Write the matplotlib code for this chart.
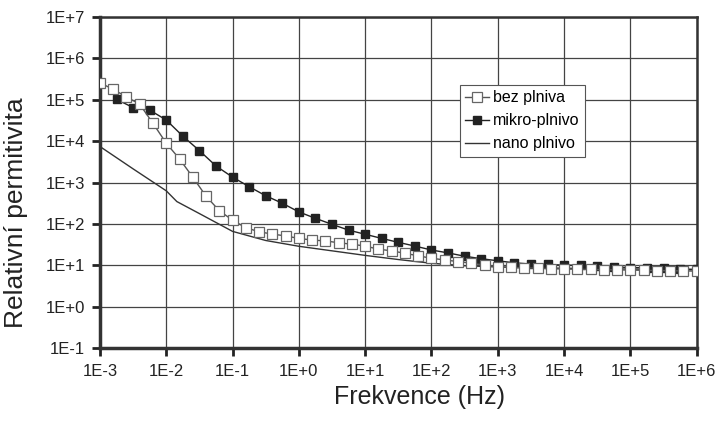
import numpy as np
import matplotlib.pyplot as plt
from matplotlib.ticker import FixedLocator, NullLocator

plt.rcParams['font.family'] = ['Liberation Sans', 'DejaVu Sans']

# --- data (log10 values) ---
bez_logf = [-3.0, -2.8, -2.6, -2.4, -2.2, -2.0, -1.8, -1.6, -1.4, -1.2,
            -1.0, -0.8, -0.6, -0.4, -0.2, 0.0, 0.2, 0.4, 0.6, 0.8,
            1.0, 1.2, 1.4, 1.6, 1.8, 2.0, 2.2, 2.4, 2.6, 2.8,
            3.0, 3.2, 3.4, 3.6, 3.8, 4.0, 4.2, 4.4, 4.6, 4.8,
            5.0, 5.2, 5.4, 5.6, 5.8, 6.0]
bez_loge = [5.41, 5.25, 5.07, 4.89, 4.43, 3.95, 3.57, 3.13, 2.67, 2.32,
            2.09, 1.91, 1.81, 1.755, 1.71, 1.65, 1.61, 1.59, 1.545, 1.51,
            1.465, 1.39, 1.35, 1.29, 1.23, 1.17, 1.13, 1.09, 1.05, 1.006,
            0.965, 0.95, 0.94, 0.93, 0.92, 0.91, 0.905, 0.90, 0.895, 0.89,
            0.885, 0.88, 0.875, 0.87, 0.865, 0.86]

mikro_logf = [-2.75, -2.5, -2.25, -2.0, -1.75, -1.5, -1.25, -1.0, -0.75, -0.5,
              -0.25, 0.0, 0.25, 0.5, 0.75, 1.0, 1.25, 1.5, 1.75, 2.0,
              2.25, 2.5, 2.75, 3.0, 3.25, 3.5, 3.75, 4.0, 4.25, 4.5,
              4.75, 5.0, 5.25, 5.5, 5.75, 6.0]
mikro_loge = [5.01, 4.81, 4.75, 4.51, 4.12, 3.77, 3.40, 3.13, 2.90, 2.68,
              2.50, 2.29, 2.135, 1.99, 1.85, 1.75, 1.65, 1.555, 1.465, 1.37,
              1.30, 1.22, 1.16, 1.11, 1.06, 1.03, 1.02, 1.006, 1.0, 0.975,
              0.965, 0.945, 0.94, 0.925, 0.915, 0.90]

nano_logf = [-3.0, -2.5, -2.0, -1.84, -1.5, -1.0, -0.5, 0.0, 0.5, 1.0,
             1.5, 2.0, 2.5, 3.0, 3.5, 4.0, 4.5, 5.0, 5.5, 6.0]
nano_loge = [3.87, 3.33, 2.80, 2.54, 2.25, 1.82, 1.60, 1.46, 1.35, 1.24,
             1.14, 1.05, 0.99, 0.96, 0.94, 0.93, 0.92, 0.91, 0.90, 0.89]

x_ticks = [1e-3, 1e-2, 1e-1, 1e0, 1e1, 1e2, 1e3, 1e4, 1e5, 1e6]
x_labels = ['1E-3', '1E-2', '1E-1', '1E+0', '1E+1', '1E+2', '1E+3', '1E+4', '1E+5', '1E+6']
y_ticks = [1e-1, 1e0, 1e1, 1e2, 1e3, 1e4, 1e5, 1e6, 1e7]
y_labels = ['1E-1', '1E+0', '1E+1', '1E+2', '1E+3', '1E+4', '1E+5', '1E+6', '1E+7']

fig = plt.figure(figsize=(7.19, 4.23), dpi=100)
ax = fig.add_axes([0.139, 0.177, 0.830, 0.783])

ax.plot(10 ** np.array(bez_logf), 10 ** np.array(bez_loge), color='#555555', lw=1.0,
        marker='s', ms=6.5, mfc='white', mec='#666666', mew=0.9, label='bez plniva', zorder=4)
ax.plot(10 ** np.array(mikro_logf), 10 ** np.array(mikro_loge), color='#222222', lw=1.0,
        marker='s', ms=6, mfc='#222222', mec='#222222', label='mikro-plnivo', zorder=3)
ax.plot(10 ** np.array(nano_logf), 10 ** np.array(nano_loge), color='#333333', lw=1.0,
        label='nano plnivo', zorder=2)

ax.set_xscale('log')
ax.set_yscale('log')
ax.set_xlim(1e-3, 1e6)
ax.set_ylim(1e-1, 1e7)
ax.xaxis.set_major_locator(FixedLocator(x_ticks))
ax.yaxis.set_major_locator(FixedLocator(y_ticks))
ax.xaxis.set_minor_locator(NullLocator())
ax.yaxis.set_minor_locator(NullLocator())
ax.set_xticklabels(x_labels)
ax.set_yticklabels(y_labels)
ax.tick_params(axis='both', direction='out', length=5.5, width=2, labelsize=12, colors='#222222')
ax.tick_params(axis='x', pad=6)
ax.tick_params(axis='y', pad=5)

ax.grid(True, color='#444444', lw=0.9)
for side in ['left', 'bottom']:
    ax.spines[side].set_linewidth(2.5)
    ax.spines[side].set_color('#333333')
for side in ['top', 'right']:
    ax.spines[side].set_linewidth(1.8)
    ax.spines[side].set_color('#333333')

ax.set_xlabel('Frekvence (Hz)', fontsize=18, color='#222222')
ax.set_ylabel('Relativní permitivita', fontsize=19, color='#222222')
ax.xaxis.set_label_coords(0.536, -0.11)
ax.yaxis.set_label_coords(-0.12, 0.41)

leg = ax.legend(loc='upper left', bbox_to_anchor=(0.603, 0.795), borderaxespad=0,
                fontsize=11.5, frameon=True, fancybox=False, edgecolor='#555555',
                framealpha=1, handlelength=1.45, handletextpad=0.25, borderpad=0.35,
                labelspacing=0.5)
leg.get_frame().set_linewidth(0.8)

fig.savefig('out.png', dpi=100)
